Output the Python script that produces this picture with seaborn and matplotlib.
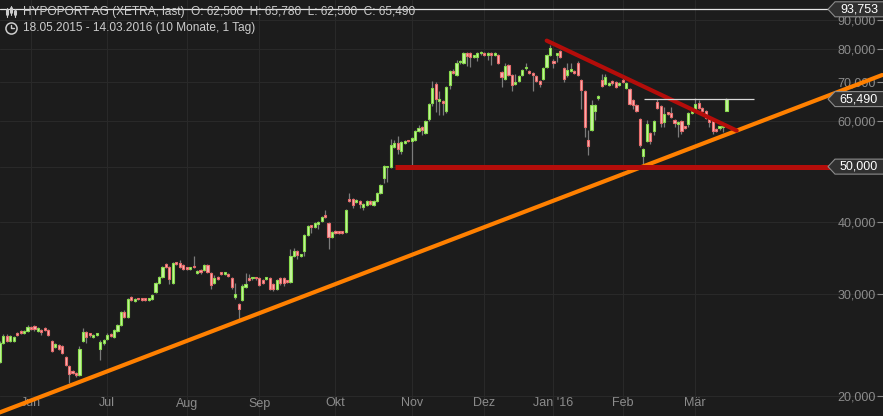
import numpy as np
import pandas as pd
import matplotlib
matplotlib.use("Agg")
import matplotlib.pyplot as plt
import matplotlib.ticker as mticker
from matplotlib.patches import Polygon
import seaborn as sns

# daily OHLC, HYPOPORT AG (XETRA), 18.05.2015 - 14.03.2016
opens = [
    23400, 22930, 24740, 25430, 24930, 24930, 25740, 25950, 25740, 25950,
    26370, 26470, 25950, 26050, 26260, 26050, 24930, 24340, 24540, 24440,
    23380, 22560, 22110, 21940, 21760, 24930, 25840, 25600, 25330, 25540,
    24150, 24740, 25130, 25640, 25330, 25950, 26580, 27990, 27440, 29720,
    29240, 29480, 29480, 29480, 29400, 29480, 30310, 31420, 32190, 33910,
    33500, 31420, 34040, 34040, 33770, 33300, 33230, 33550, 32700, 33100,
    33100, 33770, 32700, 31420, 32190, 32640, 32570, 32570, 32060, 29650,
    28900, 29360, 30930, 32060, 32000, 32060, 32060, 31800, 31930, 32060,
    31300, 30680, 32060, 32060, 31600, 31550, 35010, 35710, 35010, 35710,
    38060, 39460, 39300, 39770, 40250, 41070, 39930, 37760, 38520, 38400,
    38520, 38520, 43950, 43950, 43430, 43600, 42570, 42910, 43600, 42910,
    43600, 45020, 47800, 49900, 49950, 54090, 54970, 53250, 54970, 55420,
    55420, 55640, 57670, 58600, 57210, 60500, 64500, 69580, 65000, 65000,
    62470, 69300, 73280, 72130, 75800, 75660, 78740, 78740, 77500, 77500,
    78600, 78740, 78110, 78740, 78110, 78110, 72990, 70990, 75070, 72130,
    69580, 70420, 72130, 74100, 73280, 72700, 71850, 70420, 70990, 74470,
    78110, 76270, 78110, 79380, 74180, 72130, 73280, 73280, 75660, 70700,
    67660, 55640, 57900, 62470, 65800, 70700, 69580, 69300, 70420, 70140,
    69300, 70700, 68470, 68200, 65270, 63990, 60500, 52100, 55420, 57210,
    57670, 64750, 63740, 59780, 61980, 61980, 60260, 59310, 60020, 58600,
    59310, 61980, 62470, 64500, 63230, 62470, 60500, 60020, 58130, 58370,
    58500, 62500,
]
highs = [
    23600, 24900, 25600, 25600, 25530, 25430, 25850, 26050, 26050, 26580,
    26470, 26580, 26370, 26160, 26370, 26160, 25030, 24740, 24640, 24540,
    23480, 22650, 22200, 22030, 24440, 26260, 25950, 25740, 25640, 25740,
    25030, 25130, 25740, 25740, 26160, 26690, 28100, 28210, 29600, 29840,
    29600, 29600, 29600, 29600, 29550, 30080, 31550, 32310, 33640, 34040,
    33640, 34180, 34180, 34450, 33910, 33500, 33500, 35000, 33100, 33230,
    33910, 33910, 32840, 32440, 32310, 32840, 32770, 32700, 32190, 31420,
    29000, 31300, 32640, 32570, 32190, 32190, 32190, 31930, 32190, 32190,
    31420, 31930, 32190, 32190, 31680, 36000, 36140, 35850, 35290, 38220,
    39620, 39620, 40090, 40250, 41070, 42060, 40090, 38680, 38830, 38520,
    38680, 42230, 45020, 44120, 43950, 43780, 43260, 43780, 43780, 43780,
    45200, 46670, 50350, 50150, 55860, 55640, 56530, 55420, 55640, 55640,
    56310, 57900, 59070, 58830, 60260, 64500, 70400, 70140, 67660, 65270,
    69030, 73580, 73870, 76580, 76580, 79060, 79060, 79060, 78110, 79060,
    79380, 79060, 79060, 79060, 79060, 78420, 73280, 75660, 75360, 72420,
    72420, 72130, 73870, 75660, 73580, 72990, 72130, 70700, 74470, 78420,
    81300, 76900, 78740, 79700, 74470, 75660, 75660, 73580, 76270, 70990,
    67930, 57900, 65270, 64230, 66600, 72420, 72420, 70140, 70700, 70420,
    70140, 71560, 70140, 68470, 65530, 64230, 60750, 53890, 60260, 57440,
    60260, 65530, 63990, 63480, 62220, 63480, 60500, 60020, 60260, 58830,
    62220, 62720, 65800, 65270, 63480, 62720, 60750, 60260, 58370, 58830,
    59550, 65780,
]
lows = [
    22800, 22800, 24640, 24840, 24840, 24840, 25430, 25640, 25640, 25850,
    26050, 25950, 25850, 25540, 25950, 25430, 23850, 24240, 24050, 23660,
    22560, 21070, 21850, 21600, 21680, 24840, 24740, 25330, 25230, 25430,
    23110, 24540, 25030, 25330, 25230, 25850, 26470, 27330, 27330, 29240,
    29120, 29360, 29240, 29240, 29240, 29360, 30190, 31300, 32060, 33370,
    31300, 31300, 33770, 33370, 33100, 33100, 33100, 33370, 32570, 32570,
    32970, 32700, 30680, 31300, 31800, 32440, 32440, 32190, 30680, 29480,
    27110, 29240, 30810, 31680, 31800, 31800, 31050, 31300, 31800, 30560,
    30440, 30560, 31190, 31050, 31420, 31420, 34870, 34590, 34870, 35000,
    37910, 38400, 39140, 39000, 40090, 40740, 36000, 37610, 38220, 38220,
    38220, 38370, 43430, 42400, 43260, 42400, 42060, 42740, 42910, 42740,
    43430, 44840, 46860, 47040, 49750, 53890, 52600, 52600, 54750, 55190,
    50400, 55420, 57440, 56760, 56980, 60000, 63740, 62220, 61480, 61480,
    61980, 68200, 72420, 71850, 75350, 75360, 74770, 74470, 77190, 76270,
    78110, 77810, 76580, 75070, 77810, 75360, 68750, 70700, 71850, 67660,
    69300, 70140, 71850, 73580, 72420, 67660, 70140, 68750, 70700, 74180,
    77810, 74180, 75960, 77190, 70140, 71560, 72990, 72420, 71850, 62980,
    56310, 52400, 57670, 60260, 65270, 68750, 69300, 69030, 69300, 68470,
    69030, 69860, 68200, 63990, 62980, 62220, 54090, 50400, 55190, 54750,
    56760, 62980, 58600, 58600, 61480, 60750, 58600, 56310, 57000, 58130,
    58600, 61730, 62220, 62980, 62220, 60500, 58600, 57000, 57440, 57900,
    57440, 62500,
]
closes = [
    23000, 24740, 25430, 24930, 25430, 25330, 25540, 25740, 25950, 26370,
    26160, 26160, 26260, 25840, 26050, 25540, 23950, 24640, 24150, 23760,
    22650, 21850, 21940, 21760, 24150, 25840, 25330, 25540, 25430, 25600,
    24840, 25030, 25540, 25430, 26050, 26580, 27990, 27440, 29480, 29360,
    29480, 29440, 29360, 29400, 29440, 29960, 31420, 32190, 33500, 33500,
    31930, 34040, 33910, 33500, 33230, 33230, 33370, 33450, 32970, 32840,
    33770, 32840, 31190, 32060, 31930, 32570, 32640, 32310, 30930, 30000,
    28320, 31050, 31300, 31800, 32060, 32000, 31190, 31420, 32060, 30680,
    30680, 31800, 31420, 31420, 31550, 35010, 35710, 35150, 35150, 38060,
    39460, 39300, 39930, 40090, 40900, 40900, 37760, 38520, 38370, 38370,
    38370, 42060, 43600, 42910, 43780, 43090, 43090, 43600, 43090, 43600,
    45020, 46480, 50150, 49950, 54530, 54970, 53680, 55190, 55420, 55300,
    56090, 57670, 58370, 57900, 60020, 64230, 68470, 65530, 65530, 64500,
    68750, 73280, 72700, 75660, 75960, 78740, 77810, 77500, 77810, 78740,
    78740, 78110, 78740, 78110, 78740, 75660, 71560, 74770, 72130, 69300,
    70140, 71850, 73580, 74180, 72700, 72130, 70420, 69580, 74180, 78110,
    80340, 75660, 78420, 77500, 70990, 73580, 73870, 72700, 72130, 67930,
    58600, 54320, 63990, 63990, 66330, 69030, 71560, 69860, 69860, 68750,
    69860, 70140, 69860, 64230, 63990, 62470, 54530, 53680, 59300, 55420,
    60020, 63230, 59550, 61730, 61730, 61000, 59550, 59780, 57670, 58370,
    61980, 62470, 64230, 63230, 62470, 60750, 59780, 57670, 57670, 58600,
    58600, 65490,
]

holidays = ["2015-12-24", "2015-12-25", "2015-12-31", "2016-01-01"]
month_labels = ["Jun", "Jul", "Aug", "Sep", "Okt", "Nov", "Dez", "Jan '16", "Feb", "Mär"]
price_ticks = [20000, 30000, 40000, 50000, 60000, 70000, 80000, 90000]

# drawn trend lines (bar index, price)
orange_x = [0, 256]
orange_y = [18630, 72100]
red_x = [159.05, 213.96]
red_y = [82720, 57740]
support_level = 50000
support_start = 115.2
last_close = 65490
last_line_x = [187.2, 219.0]
period_high = 93753

header = "HYPOPORT AG (XETRA, last)  O: 62,500  H: 65,780  L: 62,500  C: 65,490"
period = "18.05.2015 - 14.03.2016 (10 Monate, 1 Tag)"

BG = "#1c1c1c"
sns.set_theme(style="dark", rc={"axes.facecolor": BG, "figure.facecolor": BG})
plt.rcParams["font.family"] = ["Liberation Sans", "DejaVu Sans"]

dates = pd.bdate_range("2015-05-18", "2016-03-14", freq="C", holidays=holidays)
df = pd.DataFrame({"date": dates, "open": opens, "high": highs, "low": lows, "close": closes})
df["i"] = np.arange(len(df))
month_pos = [i for i in range(1, len(df)) if df.date[i].month != df.date[i - 1].month]

W, H = 883, 416
fig = plt.figure(figsize=(W / 100, H / 100), dpi=100)
ax = fig.add_axes([0, 0, 1, 1])
ax.set_yscale("log")
ax.set_xlim(1.04, 256.25)
ax.set_ylim(18460, 97300)
for s in ax.spines.values():
    s.set_visible(False)

# grid + ticks (labels drawn inside the plot)
ax.set_xticks(month_pos, month_labels)
ax.set_yticks(price_ticks)
ax.yaxis.set_minor_locator(mticker.NullLocator())
# 50,000 is shown by its own price box instead
ax.yaxis.set_major_formatter(mticker.FuncFormatter(lambda v, p: "" if v == support_level else f"{v:,.0f}"))
ax.grid(True, color="#292929", lw=0.8)
ax.yaxis.tick_right()
ax.tick_params(axis="y", direction="in", length=4, width=0.8, color="#8c8c8c",
               labelcolor="#8c8c8c", labelsize=9, pad=-5)
ax.tick_params(axis="x", direction="in", length=3, width=0.8, color="#8c8c8c",
               labelcolor="#8c8c8c", labelsize=9, pad=-9)
for lbl in ax.get_yticklabels():
    lbl.set_ha("right")
for lbl in ax.get_xticklabels():
    lbl.set_va("center")

# candles
up = df.close >= df.open
lo_b = np.minimum(df.open, df.close)
hi_b = np.maximum(np.maximum(df.open, df.close), lo_b * 1.006)
ax.vlines(df.i, df.low, df.high, color="#7b7b7b", lw=0.9, zorder=2)
ax.bar(df.i[up], (hi_b - lo_b)[up], bottom=lo_b[up], width=0.62,
       color="#c6f3a0", edgecolor="#88dc4c", lw=0.8, zorder=3)
ax.bar(df.i[~up], (hi_b - lo_b)[~up], bottom=lo_b[~up], width=0.62,
       color="#f7b4b4", edgecolor="#e86c6c", lw=0.8, zorder=3)

# trend lines
sns.lineplot(x=orange_x, y=orange_y, ax=ax, color="#ff8000", lw=3.0, zorder=5)
sns.lineplot(x=red_x, y=red_y, ax=ax, color="#b40d0a", lw=3.0, zorder=5)
ax.hlines(support_level, support_start, 256.25, color="#b40d0a", lw=3.6, zorder=5)
ax.hlines(last_close, last_line_x[0], last_line_x[1], color="#d8d8d8", lw=0.9, zorder=5)
ax.axhline(period_high, xmin=0, xmax=828 / W, color="#e6e6e6", lw=0.9, zorder=5)


# price boxes on the right
def price_box(value):
    y = ax.transData.transform((ax.get_xlim()[0], value))[1] / H
    pts = [(828, 0), (835, 7.5), (885, 7.5), (885, -7.5), (835, -7.5)]
    poly = Polygon([(x / W, y + dy / H) for x, dy in pts], closed=True,
                   transform=ax.transAxes, facecolor="#303030", edgecolor="#8c8c8c",
                   lw=0.8, zorder=8, clip_on=False)
    ax.add_patch(poly)
    ax.text(859 / W, y, f"{value:,.0f}", transform=ax.transAxes, ha="center", va="center",
            color="white", fontsize=9, zorder=9)


for v in [period_high, last_close, support_level]:
    price_box(v)


# header
def fx(x):
    return x / W


def fy(y):
    return 1 - y / H


ax.text(fx(23), fy(12), header, transform=ax.transAxes, ha="left", va="center",
        color="#cdcdcd", fontsize=8.6, zorder=9)
ax.text(fx(23), fy(28), period, transform=ax.transAxes, ha="left", va="center",
        color="#cdcdcd", fontsize=8.6, zorder=9)
for x0, t, b in [(7, 8, 17), (11, 6, 15), (15, 9, 17)]:
    ax.plot([fx(x0), fx(x0)], [fy(t), fy(b)], color="#cdcdcd", lw=0.8, transform=ax.transAxes, zorder=9)
    ax.plot([fx(x0), fx(x0)], [fy(t + 2), fy(b - 3)], color="#cdcdcd", lw=2.2, transform=ax.transAxes, zorder=9)
ax.plot([fx(11)], [fy(28)], "o", ms=8, mfc="none", mec="#cdcdcd", mew=1.1, transform=ax.transAxes, zorder=9)
ax.plot([fx(11), fx(11), fx(14)], [fy(24.5), fy(28), fy(28)], color="#cdcdcd", lw=1, transform=ax.transAxes, zorder=9)

fig.savefig("out.png", dpi=100, facecolor=BG)
